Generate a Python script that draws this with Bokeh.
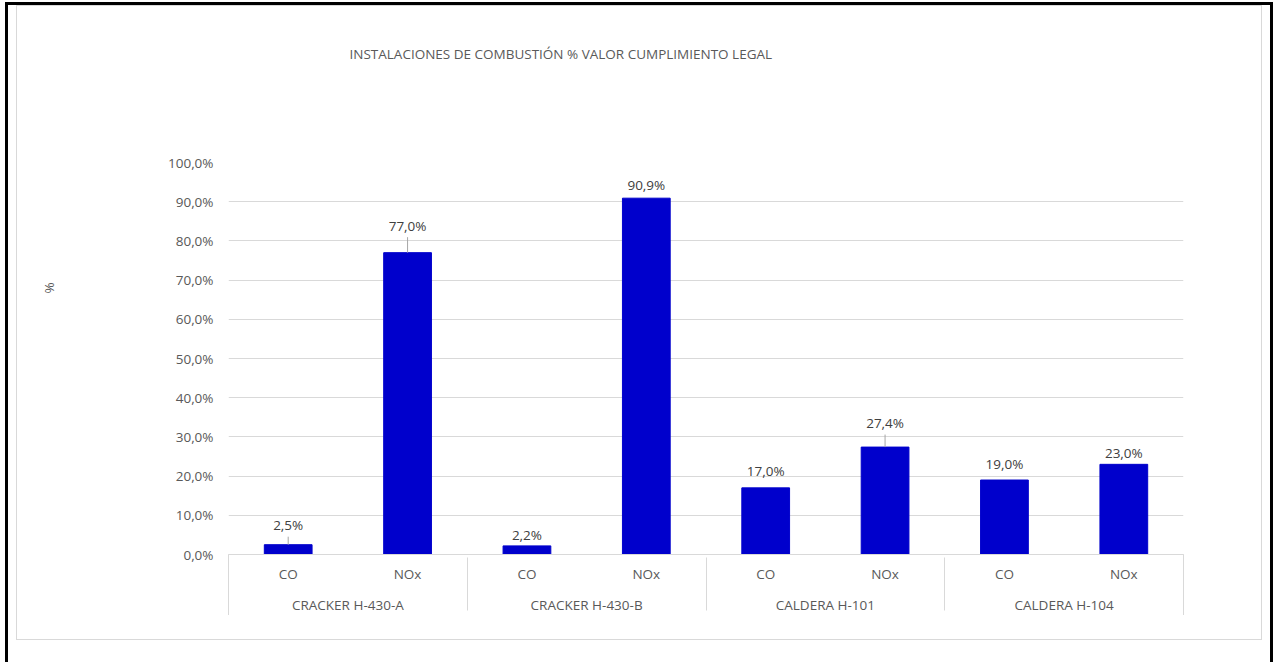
from bokeh.plotting import figure
from bokeh.models import (FactorRange, Range1d, FixedTicker, ColumnDataSource, Title)
from bokeh.core.properties import value
from bokeh.embed import file_html
from bokeh.resources import INLINE

# ---------------- data ----------------
groups = ["CRACKER H-430-A", "CRACKER H-430-B", "CALDERA H-101", "CALDERA H-104"]
pollutants = ["CO", "NOx"]
values = [2.5, 77.0, 2.2, 90.9, 17.0, 27.4, 19.0, 23.0]
value_labels = ["2,5%", "77,0%", "2,2%", "90,9%", "17,0%", "27,4%", "19,0%", "23,0%"]
y_ticks = [0, 10, 20, 30, 40, 50, 60, 70, 80, 90, 100]
y_tick_labels = ["0,0%", "10,0%", "20,0%", "30,0%", "40,0%", "50,0%",
                 "60,0%", "70,0%", "80,0%", "90,0%", "100,0%"]
title_text = "INSTALACIONES DE COMBUSTIÓN  % VALOR CUMPLIMIENTO LEGAL"
y_axis_text = "%"

# label placement (px above bar top) and leader lines
label_lift = [19.5, 27.0, 10.5, 13.6, 17.2, 24.0, 15.7, 11.0]
has_leader = [True, True, False, False, False, True, False, False]

# ---------------- layout constants ----------------
W, H = 1262, 650                      # figure placed at page (8, 5)
FL, FR, FT, FB = 220, 1175, 157, 549  # frame edges in canvas px
FONT = "Open Sans"
FS = "13.5px"
TXT = "#595959"
GRID = "#d9d9d9"
BAR = "#0000cc"

factors = [(g, s) for g in groups for s in pollutants]
px_per_unit = (FB - FT) / (y_ticks[-1] - y_ticks[0])

src = ColumnDataSource(dict(
    x=factors,
    y=values,
    lab=value_labels,
    yoff=[-l for l in label_lift],
))
lead = ColumnDataSource(dict(
    x=[f for f, h in zip(factors, has_leader) if h],
    y0=[v for v, h in zip(values, has_leader) if h],
    y1=[v + (l - 11.5) / px_per_unit for v, l, h in zip(values, label_lift, has_leader) if h],
))

p = figure(
    x_range=FactorRange(*factors, factor_padding=0, group_padding=0, range_padding=0),
    y_range=Range1d(y_ticks[0], y_ticks[-1]),
    width=W, height=H,
    output_backend="svg", toolbar_location=None,
    min_border_left=FL, min_border_right=W - FR,
    min_border_top=FT, min_border_bottom=H - FB,
    outline_line_color=None,
)
p.margin = (5, 0, 0, 8)
p.border_fill_color = None
p.background_fill_color = "white"
p.title.visible = False

# page frame (black), chart-area border (light grey) and the two outer
# category-separator lines, drawn with CSS shadows around the transparent canvas
shadows = [
    "inset 1008px 0 0 -1000px #fff",
    "inset -1008px 0 0 -1000px #fff",
    "inset 0 -1015px 0 -1000px #fff",
    "inset 1009px 0 0 -1000px #d9d9d9",
    "inset -1009px 0 0 -1000px #d9d9d9",
    "inset 0 -1016px 0 -1000px #d9d9d9",
    "inset 0 1001px 0 -1000px #d9d9d9",
    "inset 0 1549px 0 -1000px #fff",
    "inset 0 -1040px 0 -1000px #fff",
    "inset 1220px 0 0 -1000px #fff",
    "inset 1221px 0 0 -1000px #d9d9d9",
    "inset -1086px 0 0 -1000px #fff",
    "inset -1087px 0 0 -1000px #d9d9d9",
    "0 10px 0 0 #fff",
    "0 0 0 3px #000",
    "0 7px 0 3px #000",
]
p.styles = {"box-shadow": ", ".join(shadows)}

p.vbar(x="x", top="y", width=0.4, source=src, fill_color=BAR, line_color=BAR)
p.segment(x0="x", y0="y0", x1="x", y1="y1", source=lead, line_color="#a6a6a6", line_width=1)
p.text(x="x", y="y", text="lab", y_offset="yoff", source=src,
       text_font=value(FONT), text_font_size=FS, text_color="#404040",
       text_align="center", text_baseline="middle")

# y axis
ya = p.yaxis[0]
ya.ticker = FixedTicker(ticks=y_ticks)
ya.major_label_overrides = dict(zip(y_ticks, y_tick_labels))
ya.axis_line_color = None
ya.major_tick_line_color = None
ya.minor_tick_line_color = None
ya.major_tick_out = 0
ya.major_tick_in = 0
ya.minor_tick_out = 0
ya.minor_tick_in = 0
ya.major_label_standoff = 15
ya.major_label_text_font = FONT
ya.major_label_text_font_size = FS
ya.major_label_text_color = TXT
p.ygrid.grid_line_color = GRID
p.xgrid.grid_line_color = None

# x axis (categorical)
xa = p.xaxis[0]
xa.axis_line_color = GRID
xa.major_tick_line_color = None
xa.minor_tick_line_color = None
xa.major_tick_out = 0
xa.major_tick_in = 0
xa.minor_tick_out = 0
xa.minor_tick_in = 0
xa.major_label_text_font = FONT
xa.major_label_text_font_size = FS
xa.major_label_text_color = TXT
xa.major_label_standoff = 10
xa.group_text_font = FONT
xa.group_text_font_size = FS
xa.group_text_color = TXT
xa.group_text_font_style = "normal"
xa.separator_line_color = GRID
xa.separator_line_width = 1

# title (above) and y-axis text (left)
p.add_layout(Title(text=" ", standoff=79, text_font=FONT, text_font_size="13px"), "above")
p.add_layout(Title(text=title_text, align="left", offset=121, vertical_align="middle",
                   standoff=0, text_font=FONT, text_font_size=FS,
                   text_color=TXT, text_font_style="normal"), "above")
p.add_layout(Title(text=" ", standoff=86, text_font=FONT, text_font_size="13px"), "left")
p.add_layout(Title(text=y_axis_text, align="left", offset=261, vertical_align="middle",
                   standoff=0, text_font=FONT, text_font_size=FS,
                   text_color=TXT, text_font_style="normal"), "left")

open("out.html", "w").write(file_html(p, INLINE))
